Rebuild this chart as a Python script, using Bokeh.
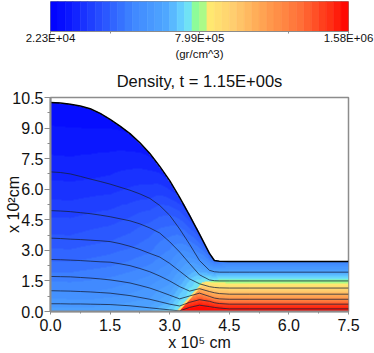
import numpy as np
from bokeh.embed import file_html
from bokeh.resources import INLINE
from bokeh.plotting import figure
from bokeh.layouts import column
from bokeh.models import FixedTicker, LinearColorMapper, Range1d

# contour lines (bottom to top) read at these x columns
cols = [0, .25, .5, .75, 1, 1.25, 1.5, 1.75, 2, 2.25, 2.5, 2.75, 3, 3.25, 3.5, 3.75, 4, 4.125, 4.25, 4.5, 5, 7.5]
line_g = [.38, .38, .37, .37, .36, .35, .34, .31, .28, .23, .18, .13, .08, .03, .20, .31, .24, .20, .17, .13, .13, .13]
line_f = [1.02, 1.01, 1.0, .98, .96, .93, .90, .84, .78, .69, .60, .48, .36, .27, .45, .58, .50, .43, .39, .36, .36, .36]
line_e = [1.72, 1.71, 1.70, 1.67, 1.64, 1.60, 1.55, 1.48, 1.40, 1.28, 1.15, .98, .80, .62, .76, .90, .74, .66, .62, .60, .60, .60]
line_d = [2.55, 2.54, 2.52, 2.50, 2.47, 2.44, 2.42, 2.34, 2.25, 2.11, 1.95, 1.74, 1.50, 1.22, 1.00, 1.12, .98, .92, .88, .85, .85, .85]
line_c = [3.60, 3.58, 3.55, 3.53, 3.50, 3.47, 3.43, 3.33, 3.20, 3.04, 2.85, 2.67, 2.36, 1.98, 1.60, 1.36, 1.22, 1.18, 1.16, 1.15, 1.15, 1.15]
line_b = [4.95, 4.93, 4.90, 4.85, 4.80, 4.73, 4.65, 4.55, 4.45, 4.30, 4.10, 3.85, 3.42, 2.92, 2.35, 1.80, 1.55, 1.51, 1.50, 1.50, 1.50, 1.50]
line_a = [6.85, 6.82, 6.75, 6.63, 6.50, 6.38, 6.25, 6.10, 5.95, 5.77, 5.55, 5.20, 4.72, 4.05, 3.30, 2.50, 2.02, 1.95, 1.93, 1.93, 1.93, 1.93]
surface = [10.25, 10.23, 10.17, 10.08, 9.95, 9.72, 9.43, 9.10, 8.73, 8.28, 7.75, 7.12, 6.42, 5.60, 4.72, 3.80, 2.85, 2.50, 2.46, 2.45, 2.45, 2.45]
bottom = [0.0] * len(cols)

# colour-bar fraction on those lines, ahead of the shock
cols_pre = [0, .5, 1, 1.5, 2, 2.5, 3, 3.25, 3.5, 3.75, 4, 4.25, 4.5, 5, 7.5]
pre_bot = [.36, .36, .36, .37, .38, .40, .46, .49, .49, .49, .49, .49, .49, .49, .49]
pre_g = [.34, .34, .34, .35, .36, .38, .44, .48, .48, .48, .48, .48, .48, .48, .48]
pre_f = [.30, .30, .30, .31, .33, .35, .41, .47, .47, .47, .47, .47, .47, .47, .47]
pre_e = [.26, .26, .27, .28, .30, .33, .38, .44, .46, .46, .46, .46, .46, .46, .46]
pre_d = [.22, .22, .23, .24, .26, .29, .34, .40, .46, .46, .46, .46, .46, .46, .46]
pre_c = [.18, .18, .19, .20, .22, .25, .30, .35, .42, .48, .49, .49, .49, .49, .49]
pre_b = [.14, .14, .15, .16, .18, .21, .26, .30, .35, .42, .47, .485, .49, .49, .49]
pre_a = [.09, .09, .10, .11, .13, .15, .20, .23, .26, .31, .36, .38, .38, .38, .38]
pre_s = [.03, .03, .03, .04, .05, .07, .10, .13, .15, .18, .21, .25, .27, .27, .27]
# behind the shock, bottom to line b
post_levels = [1.0, .97, .90, .76, .67, .58, .50]
shock_x = [3.2, 3.85, 3.95]
shock_y = [0.0, 1.42, 1.48]

# colour bar
cbar_pos = [0, .055, .17, .28, .39, .46, .49, .51, .52, .61, .72, .84, .95, 1]
cbar_rgb = ["#0000ff", "#0a14ff", "#2850ff", "#4088ff", "#50a8ff", "#6ee0ff", "#90ff90", "#90ff90",
            "#ffee70", "#ffd070", "#ffa050", "#ff7038", "#ff2810", "#ff0000"]
cbar_ticks = [0, .2, .5, .8, 1]
cbar_labels = {0: "2.23E+04", 0.5: "7.99E+05", 1: "1.58E+06", 0.2: "", 0.8: ""}
unit_label = "(gr/cm^3)"
title_text = "Density, t = 1.15E+00s"
x_label = "x 10\u2075 cm"
y_label = "x 10\u00b2cm"
x_ticks = [0, 1.5, 3, 4.5, 6, 7.5]
x_minor = [.75, 2.25, 3.75, 5.25, 6.75]
y_ticks = [0, 1.5, 3, 4.5, 6, 7.5, 9, 10.5]
y_minor = [.75, 2.25, 3.75, 5.25, 6.75, 8.25, 9.75]

FONT = "Liberation Sans"
GREY = "#8c8c8c"
INK = "#111111"
N = 40


def hex2rgb(h):
    return [int(h[i:i + 2], 16) for i in (1, 3, 5)]


rgb = np.array([hex2rgb(c) for c in cbar_rgb], float)
fr = (np.arange(N) + .5) / N
palette = ["#%02x%02x%02x" % tuple(int(np.interp(f, cbar_pos, rgb[:, k])) for k in range(3)) for f in fr]

# --- colour bar figure
cb = figure(width=374, height=62, x_range=Range1d(0, 1), y_range=Range1d(0, 1), toolbar_location=None,
            output_backend="svg", min_border_left=50, min_border_right=26, min_border_top=1, min_border_bottom=31)
cb.quad(left=np.arange(N) / N, right=(np.arange(N) + 1) / N, bottom=0, top=1, color=palette, line_width=0.6)
cb.yaxis.visible = False
cb.grid.visible = False
cb.outline_line_color = GREY
cb.xaxis.ticker = FixedTicker(ticks=cbar_ticks)
cb.xaxis.major_label_overrides = cbar_labels
cb.xaxis.axis_line_color = GREY
cb.xaxis.major_tick_line_color = GREY
cb.xaxis.major_tick_out = 2
cb.xaxis.major_tick_in = 0
cb.xaxis.minor_tick_line_color = None
cb.xaxis.major_label_standoff = -2
cb.xaxis.major_label_text_font = FONT
cb.xaxis.major_label_text_font_size = "11.5px"
cb.xaxis.major_label_text_color = INK
cb.xaxis.axis_label = unit_label
cb.xaxis.axis_label_text_font = FONT
cb.xaxis.axis_label_text_font_style = "normal"
cb.xaxis.axis_label_text_font_size = "11.5px"
cb.xaxis.axis_label_standoff = 1
cb.xaxis.axis_label_text_color = INK

# --- main figure
p = figure(width=374, height=291, x_range=Range1d(0, 7.5), y_range=Range1d(0, 10.5), toolbar_location=None,
           output_backend="svg", min_border_left=50, min_border_right=26, min_border_top=35, min_border_bottom=41,
           title=title_text)
p.title.align = "center"
p.title.text_font = FONT
p.title.text_font_style = "normal"
p.title.text_font_size = "16.5px"
p.title.text_color = INK
p.title.standoff = 15
p.grid.visible = False
p.outline_line_color = GREY
p.outline_line_width = 1.5

lines = [bottom, line_g, line_f, line_e, line_d, line_c, line_b, line_a, surface]
pres = [pre_bot, pre_g, pre_f, pre_e, pre_d, pre_c, pre_b, pre_a, pre_s]
W, H = 298, 215
xs = (np.arange(W) + .5) / W * 7.5
ys = (np.arange(H) + .5) / H * 10.5
field = np.full((H, W), np.nan)
for i, x in enumerate(xs):
    yl = np.array([np.interp(x, cols, l) for l in lines])
    lv = np.array([np.interp(x, cols_pre, l) for l in pres])
    col = np.interp(ys, yl, lv)
    post = np.interp(ys, yl[:7], post_levels)
    mask = (ys < shock_y[-1]) & (x > np.interp(ys, shock_y, shock_x))
    col = np.where(mask, post, col)
    col[ys > yl[-1]] = np.nan
    field[:, i] = col

mapper = LinearColorMapper(palette=palette, low=0, high=1, nan_color=(0, 0, 0, 0))
p.image(image=[field], x=0, y=0, dw=7.5, dh=10.5, color_mapper=mapper)
p.line(shock_x[:2], shock_y[:2], color="#ffe070", line_width=2)
for l in lines[1:-1]:
    p.line(cols, l, color="#15203a", line_width=.9, line_alpha=.85)
p.line(cols, surface, color="black", line_width=1.5)

for ax, t, m, lbl in ((p.xaxis, x_ticks, x_minor, x_label), (p.yaxis, y_ticks, y_minor, y_label)):
    ax.ticker = FixedTicker(ticks=t, minor_ticks=m)
    ax.formatter.use_scientific = False
    ax.major_label_overrides = {v: "%.1f" % v for v in t}
    ax.axis_line_color = GREY
    ax.axis_line_width = 2
    ax.major_tick_line_color = GREY
    ax.minor_tick_line_color = GREY
    ax.major_tick_in = 0
    ax.minor_tick_in = 0
    ax.major_label_text_font = FONT
    ax.major_label_text_font_size = "16px"
    ax.major_label_text_color = INK
    ax.axis_label = lbl
    ax.axis_label_text_font = FONT
    ax.axis_label_text_font_style = "normal"
    ax.axis_label_text_font_size = "16px"
    ax.axis_label_text_color = INK
p.xaxis.axis_label_standoff = 0
p.yaxis.axis_label_standoff = -13
p.xaxis.major_tick_out = 3
p.xaxis.minor_tick_out = 2
p.yaxis.major_tick_out = 6
p.yaxis.minor_tick_out = 3
p.xaxis.major_label_standoff = 4
p.yaxis.major_label_standoff = 1

page = column(cb, p, spacing=0)
open("out.html", "w").write(file_html(page, INLINE))
